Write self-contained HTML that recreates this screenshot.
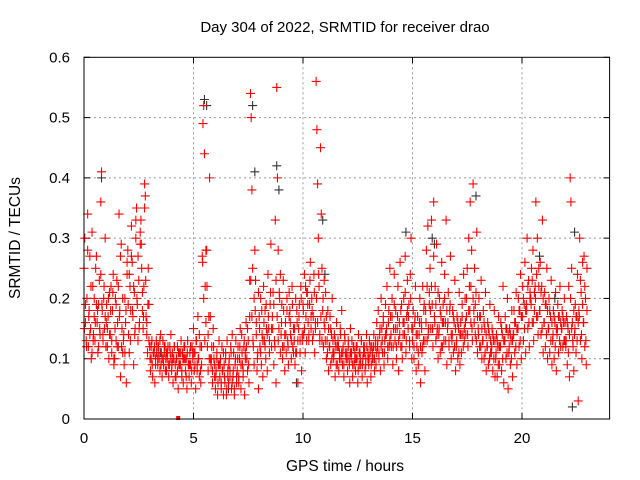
<!DOCTYPE html>
<html><head><meta charset="utf-8"><style>
html,body{margin:0;padding:0;background:#fff;}
svg{display:block;font-family:"Liberation Sans",sans-serif;}
</style></head><body>
<svg id="chart" width="640" height="480" viewBox="0 0 640 480" xmlns="http://www.w3.org/2000/svg">
<rect width="640" height="480" fill="#fff"/>
<text x="345" y="32" font-size="15" text-anchor="middle">Day 304 of 2022, SRMTID for receiver drao</text>
<text x="345" y="471" font-size="15.5" text-anchor="middle">GPS time / hours</text>
<text x="20" y="238" font-size="15.5" text-anchor="middle" transform="rotate(-90 20 238)">SRMTID / TECUs</text>
<g id="grid"></g>
<g id="ticks"></g>
<g id="black-series"></g>
<g id="red-series"></g>
<rect x="84" y="57.3" width="525.6" height="361.7" fill="none" stroke="#000" stroke-width="1"/>
</svg>
<script>
const xTicks=[0,5,10,15,20];
const yTicks=[0,0.1,0.2,0.3,0.4,0.5,0.6];
const yTickLabels=["0","0.1","0.2","0.3","0.4","0.5","0.6"];
const groupStart=0, groupStep=0.2;
const redValues=[
[.25,.30,.16,.13,.20,.34],[.12,.18,.27,.15,.10,.31],[.22,.14,.17,.13,.25,.19],[.16,.11,.19,.23,.14,.36],[.41,.18,.13,.20,.15,.30],
[.12,.19,.15,.17,.10,.21],[.14,.22,.11,.18,.24,.09],[.10,.20,.13,.23,.16,.12],[.34,.18,.07,.29,.15,.11],[.13,.09,.20,.16,.06,.24],
[.28,.14,.11,.22,.18,.32],[.26,.17,.09,.21,.15,.30],[.35,.19,.13,.23,.16,.29],[.33,.25,.18,.15,.22,.39],[.37,.17,.14,.11,.25,.19],
[.12,.08,.10,.13,.07,.11],[.11,.06,.09,.13,.12,.10],[.12,.10,.08,.14,.11,.07],[.13,.09,.11,.12,.10,.08],[.10,.12,.07,.09,.11,.14],
[.08,.11,.06,.10,.12,.09],[.07,.10,.12,.05,.09,.11],[.09,.13,.07,.11,.06,.10],[.12,.08,.10,.05,.13,.09],[.07,.11,.09,.06,.12,.10],
[.15,.08,.11,.05,.13,.09],[.17,.10,.07,.12,.06,.09],[.27,.49,.52,.44,.22,.16],[.28,.12,.08,.17,.40,.10],[.09,.12,.06,.15,.10,.07],
[.05,.08,.11,.04,.09,.13],[.07,.10,.05,.12,.08,.04],[.09,.06,.11,.04,.13,.07],[.06,.10,.08,.12,.05,.14],[.07,.11,.04,.09,.13,.06],
[.08,.12,.06,.10,.15,.05],[.14,.09,.07,.12,.04,.11],[.16,.10,.08,.13,.06,.23],[.54,.50,.38,.25,.12,.09],[.28,.23,.16,.08,.11,.05],
[.17,.12,.20,.09,.14,.07],[.22,.13,.18,.10,.15,.08],[.24,.15,.11,.19,.29,.12],[.17,.21,.09,.13,.33,.06],[.55,.40,.28,.15,.20,.11],
[.14,.19,.10,.23,.12,.08],[.16,.11,.20,.13,.09,.17],[.18,.14,.10,.22,.12,.15],[.13,.09,.20,.11,.16,.06],[.15,.19,.11,.22,.08,.13],
[.19,.14,.24,.11,.17,.21],[.21,.16,.13,.19,.26,.15],[.20,.13,.17,.24,.11,.15],[.56,.48,.39,.30,.22,.14],[.45,.34,.25,.18,.12,.16],
[.15,.21,.10,.13,.18,.08],[.12,.17,.09,.14,.20,.11],[.10,.14,.07,.12,.16,.09],[.13,.08,.11,.15,.10,.18],[.09,.12,.07,.14,.11,.10],
[.11,.08,.13,.10,.06,.15],[.10,.13,.07,.12,.09,.11],[.08,.12,.10,.06,.14,.09],[.11,.09,.13,.07,.10,.12],[.12,.08,.10,.14,.06,.11],
[.09,.13,.11,.07,.12,.10],[.10,.14,.08,.12,.09,.16],[.12,.18,.10,.14,.08,.20],[.15,.11,.17,.09,.13,.19],[.14,.22,.10,.16,.12,.25],
[.17,.12,.20,.09,.15,.24],[.13,.18,.10,.15,.22,.08],[.16,.26,.12,.19,.10,.14],[.20,.14,.27,.11,.17,.23],[.15,.19,.12,.24,.30,.10],
[.13,.18,.10,.16,.22,.08],[.12,.17,.09,.14,.20,.06],[.16,.11,.22,.13,.19,.08],[.18,.28,.13,.32,.15,.21],[.25,.15,.33,.19,.12,.36],
[.17,.22,.13,.29,.15,.10],[.14,.20,.11,.17,.26,.12],[.19,.13,.24,.16,.33,.09],[.15,.21,.12,.18,.27,.10],[.13,.18,.11,.16,.23,.08],
[.12,.17,.10,.15,.21,.09],[.16,.11,.19,.14,.24,.13],[.20,.14,.17,.25,.12,.30],[.22,.36,.16,.28,.13,.39],[.18,.25,.14,.21,.31,.11],
[.15,.20,.12,.17,.23,.10],[.13,.18,.10,.15,.21,.08],[.12,.16,.09,.14,.19,.11],[.11,.15,.08,.13,.18,.07],[.10,.14,.07,.12,.17,.09],
[.12,.16,.08,.14,.22,.06],[.13,.17,.10,.15,.20,.05],[.11,.15,.09,.13,.18,.07],[.14,.18,.11,.16,.21,.09],[.15,.20,.12,.18,.24,.10],
[.17,.22,.13,.19,.26,.11],[.19,.30,.15,.23,.12,.21],[.20,.25,.16,.28,.13,.18],[.22,.36,.17,.30,.14,.25],[.18,.26,.14,.22,.33,.11],
[.16,.21,.12,.19,.25,.10],[.15,.20,.11,.17,.23,.09],[.13,.18,.10,.16,.21,.08],[.14,.19,.11,.17,.22,.12],[.15,.18,.12,.16,.20,.13],
[.12,.17,.09,.15,.22,.07],[.40,.36,.25,.16,.12,.08],[.14,.19,.11,.17,.24,.03],[.18,.30,.13,.21,.10,.26],[.16,.27,.12,.20,.09,.25]
];
// second receiver-satellite pass set, interleaved in time
const redValues2=[
[.15,.19,.12,.28],[.17,.14,.22,.11],[.13,.20,.16,.27],[.18,.12,.15,.24],[.19,.14,.22,.17],
[.16,.12,.20,.14],[.18,.13,.21,.10],[.15,.19,.12,.22],[.17,.27,.12,.20],[.14,.11,.18,.26],
[.19,.24,.13,.27],[.18,.22,.14,.33],[.20,.27,.15,.31],[.29,.21,.17,.35],[.23,.16,.19,.13],
[.10,.12,.09,.11],[.12,.10,.11,.09],[.11,.13,.09,.10],[.10,.12,.08,.11],[.11,.09,.12,.10],
[.09,.10,.12,.07],[.10,.08,.11,.09],[.11,.08,.10,.12],[.10,.07,.11,.09],[.09,.12,.08,.11],
[.11,.09,.13,.08],[.10,.14,.08,.12],[.26,.20,.13,.28],[.22,.14,.10,.17],[.10,.08,.12,.09],
[.07,.10,.06,.09],[.09,.06,.08,.11],[.07,.10,.05,.08],[.09,.07,.11,.06],[.08,.05,.10,.07],
[.10,.07,.12,.09],[.11,.08,.13,.10],[.12,.15,.09,.17],[.23,.17,.13,.20],[.18,.14,.10,.21],
[.15,.11,.18,.13],[.16,.12,.19,.14],[.17,.13,.21,.15],[.15,.19,.12,.23],[.17,.13,.21,.24],
[.16,.12,.18,.14],[.14,.18,.12,.21],[.16,.13,.19,.11],[.15,.11,.18,.13],[.17,.13,.20,.14],
[.18,.15,.22,.13],[.19,.14,.23,.17],[.18,.14,.21,.16],[.20,.16,.24,.13],[.17,.13,.20,.23],
[.13,.17,.11,.15],[.12,.15,.10,.13],[.11,.13,.09,.12],[.12,.10,.14,.11],[.11,.09,.13,.10],
[.10,.12,.09,.11],[.11,.09,.12,.10],[.10,.12,.08,.11],[.10,.13,.09,.11],[.11,.09,.12,.10],
[.10,.12,.09,.11],[.12,.10,.13,.11],[.13,.11,.15,.12],[.13,.16,.11,.14],[.15,.12,.18,.13],
[.14,.17,.12,.19],[.15,.12,.17,.13],[.14,.18,.12,.16],[.16,.21,.13,.18],[.17,.13,.20,.15],
[.15,.12,.17,.14],[.14,.11,.16,.12],[.15,.12,.18,.13],[.16,.22,.14,.19],[.18,.22,.15,.27],
[.16,.19,.14,.21],[.15,.18,.12,.16],[.16,.20,.13,.18],[.16,.13,.19,.14],[.14,.17,.12,.15],
[.13,.16,.11,.14],[.14,.17,.12,.15],[.16,.20,.14,.18],[.18,.22,.15,.20],[.16,.19,.13,.17],
[.14,.17,.12,.15],[.13,.16,.11,.14],[.12,.15,.10,.13],[.12,.14,.10,.13],[.11,.13,.09,.12],
[.12,.15,.10,.13],[.13,.15,.11,.14],[.12,.14,.10,.13],[.14,.16,.12,.15],[.15,.18,.13,.17],
[.17,.20,.15,.18],[.18,.22,.16,.20],[.19,.23,.16,.21],[.20,.24,.17,.22],[.18,.21,.15,.20],
[.16,.19,.14,.18],[.15,.18,.13,.16],[.14,.17,.12,.15],[.15,.17,.13,.16],[.15,.17,.13,.16],
[.13,.16,.11,.14],[.20,.15,.13,.18],[.15,.17,.13,.16],[.17,.23,.14,.19],[.16,.22,.13,.18]
];
const blackTimes=[0.8,5.5,5.6,7.7,7.8,8.8,8.9,10.9,11.0,14.7,15.9,16.0,17.9,20.8,21.5,22.3,22.4,9.7,3.5,6.6];
const blackValues=[0.40,0.53,0.52,0.52,0.41,0.42,0.38,0.33,0.24,0.31,0.30,0.29,0.37,0.27,0.20,0.02,0.31,0.06,0.11,0.05];
const markerTime=[4.3], markerValue=[0];

const X0=84, XW=525.6, XMAX=24, Y0=419, YH=361.7, YMAX=0.6;
function xs(t){return X0+t/XMAX*XW;}
function ys(v){return Y0-v/YMAX*YH;}
const NS="http://www.w3.org/2000/svg";
const grid=document.getElementById('grid'), ticks=document.getElementById('ticks');
function mk(tag,attrs,parent){const e=document.createElementNS(NS,tag);for(const k in attrs)e.setAttribute(k,attrs[k]);parent.appendChild(e);return e;}
xTicks.forEach(t=>{
  const x=xs(t);
  if(t>0){const g=mk('line',{x1:x,y1:57.3,x2:x,y2:Y0,stroke:'#999','stroke-dasharray':'2,3'},grid);
  
  }
  const tx=mk('text',{x:x,y:443,'font-size':15,'text-anchor':'middle'},ticks);
  tx.textContent=String(t);
  
  
  mk('line',{x1:x,y1:Y0,x2:x,y2:Y0-6,stroke:'#000'},ticks);
  mk('line',{x1:x,y1:57.3,x2:x,y2:63.3,stroke:'#000'},ticks);
});
yTicks.forEach((v,i)=>{
  const y=ys(v);
  if(v>0&&v<0.6){const g=mk('line',{x1:X0,y1:y,x2:X0+XW,y2:y,stroke:'#999','stroke-dasharray':'2,3'},grid);
  
  }
  const tx=mk('text',{x:70,y:y+5,'font-size':15,'text-anchor':'end'},ticks);
  tx.textContent=yTickLabels[i];
  
  
  mk('line',{x1:X0,y1:y,x2:X0+6,y2:y,stroke:'#000'},ticks);
  mk('line',{x1:X0+XW,y1:y,x2:X0+XW-6,y2:y,stroke:'#000'},ticks);
});
function plus(x,y,color,parent,name){
  const p=mk('path',{d:`M${x-4.5},${y}H${x+4.5}M${x},${y-4.5}V${y+4.5}`,stroke:color,'stroke-width':1.1,fill:'none'},parent);
  
  
}
const bg=document.getElementById('black-series');
blackTimes.forEach((t,i)=>plus(xs(t),ys(blackValues[i]),'#333',bg,'black-point'));
const rg=document.getElementById('red-series');
redValues.forEach((grp,gi)=>{
  const t0=groupStart+gi*groupStep;
  grp.forEach((v,j)=>plus(xs(t0+j*groupStep/grp.length),ys(v),'#f00',rg,'red-point'));
});
redValues2.forEach((grp,gi)=>{
  const t0=groupStart+gi*groupStep+groupStep/12;
  grp.forEach((v,j)=>plus(xs(t0+j*groupStep/grp.length),ys(v),'#f00',rg,'red-point'));
});
markerTime.forEach((t,i)=>{
  const r=mk('rect',{x:xs(t)-2,y:ys(markerValue[i])-3,width:4,height:4,fill:'#f00'},rg);
  
  
});
</script>
</body></html>
